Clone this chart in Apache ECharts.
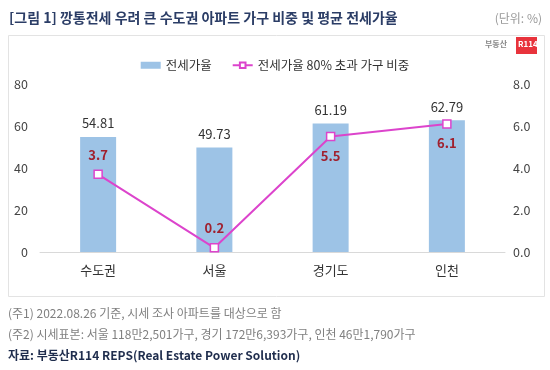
<!DOCTYPE html>
<html>
<head>
<meta charset="utf-8">
<script src="https://cdn.jsdelivr.net/npm/echarts@6/dist/echarts.min.js"></script>
<style>
html,body{margin:0;padding:0;background:#fff;}
#c{width:550px;height:370px;}
</style>
</head>
<body>
<div id="c"></div>
<script>
const categories = ['수도권', '서울', '경기도', '인천'];
const jeonseRate = [54.81, 49.73, 61.19, 62.79];
const shareOver80 = [3.7, 0.2, 5.5, 6.1];
const shareLabelPos = ['top', 'top', 'bottom', 'bottom'];
const leftTicks = [0, 80, 20];
const rightTicks = [0, 8, 2];

const FONT = '"Noto Sans CJK KR", "Noto Sans", sans-serif';
const chart = echarts.init(document.getElementById('c'));
chart.setOption({
  animation: false,
  textStyle: { fontFamily: FONT },
  graphic: [
    { type: 'text', left: 9, top: 11, style: { text: '[그림 1] 깡통전세 우려 큰 수도권 아파트 가구 비중 및 평균 전세가율', font: 'bold 14px ' + FONT, fill: '#2b3d66' } },
    { type: 'text', right: 8, top: 12, style: { text: '(단위: %)', font: '12px ' + FONT, fill: '#999' } },
    { type: 'rect', shape: { x: 8.5, y: 35.5, width: 536, height: 261 }, style: { fill: 'none', stroke: '#e3e3e3', lineWidth: 1 }, z: -1 },
    { type: 'text', left: 485, top: 40, style: { text: '부동산', font: 'bold 8px ' + FONT, fill: '#888' } },
    { type: 'rect', shape: { x: 516, y: 37, width: 21, height: 17 }, style: { fill: '#e8333c' } },
    { type: 'text', left: 518, top: 40, style: { text: 'R114', font: 'bold 8px ' + FONT, fill: '#fff' } },
    { type: 'text', left: 8, top: 307, style: { text: '(주1) 2022.08.26 기준, 시세 조사 아파트를 대상으로 함', font: '12px ' + FONT, fill: '#808080' } },
    { type: 'text', left: 8, top: 328, style: { text: '(주2) 시세표본: 서울 118만2,501가구, 경기 172만6,393가구, 인천 46만1,790가구', font: '12px ' + FONT, fill: '#808080' } },
    { type: 'text', left: 8, top: 349, style: { text: '자료: 부동산R114 REPS(Real Estate Power Solution)', font: 'bold 12px ' + FONT, fill: '#1f2d4d' } }
  ],
  legend: {
    top: 54, left: 'center', itemGap: 20, itemWidth: 20, itemHeight: 7,
    textStyle: { fontSize: 12.5, color: '#333' },
    data: [
      { name: '전세가율', icon: 'rect' },
      { name: '전세가율 80% 초과 가구 비중' }
    ]
  },
  grid: { left: 40, right: 45, top: 84, bottom: 118 },
  xAxis: {
    type: 'category', data: categories,
    axisLine: { lineStyle: { color: '#d9d9d9' } },
    axisTick: { show: false },
    axisLabel: { color: '#333', fontSize: 13, margin: 12 }
  },
  yAxis: [
    { type: 'value', min: leftTicks[0], max: leftTicks[1], interval: leftTicks[2],
      splitLine: { show: false }, axisLine: { show: false }, axisTick: { show: false },
      axisLabel: { color: '#444', fontSize: 12.5, margin: 12 } },
    { type: 'value', min: rightTicks[0], max: rightTicks[1], interval: rightTicks[2],
      splitLine: { show: false }, axisLine: { show: false }, axisTick: { show: false },
      axisLabel: { color: '#444', fontSize: 12.5, margin: 8, formatter: v => v.toFixed(1) } }
  ],
  series: [
    { name: '전세가율', type: 'bar', data: jeonseRate, barWidth: 36,
      itemStyle: { color: '#9dc3e6' },
      label: { show: true, position: 'top', distance: 7, color: '#333', fontSize: 13, formatter: p => p.value.toFixed(2) } },
    { name: '전세가율 80% 초과 가구 비중', type: 'line', yAxisIndex: 1,
      data: shareOver80.map((v, i) => ({ value: v, label: { position: shareLabelPos[i] } })),
      symbol: 'rect', symbolSize: 8,
      lineStyle: { color: '#dc44cc', width: 2 },
      itemStyle: { color: '#fff', borderColor: '#dc44cc', borderWidth: 1.5 },
      label: { show: true, distance: 8, color: '#a0202e', fontWeight: 'bold', fontSize: 13, formatter: p => p.value.toFixed(1) },
      z: 5 }
  ]
});
</script>
</body>
</html>
